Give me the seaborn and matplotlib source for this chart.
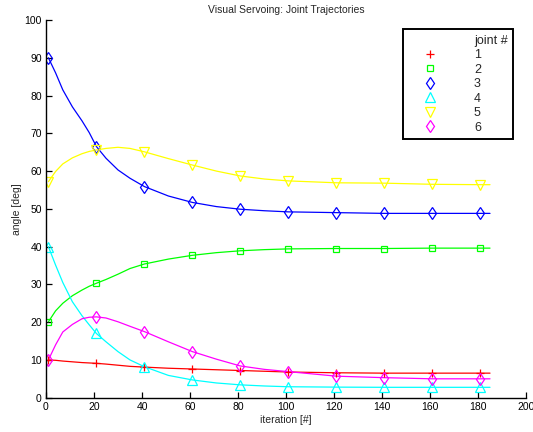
import pandas as pd
import matplotlib
matplotlib.use("Agg")
import matplotlib.pyplot as plt
from matplotlib.lines import Line2D
import seaborn as sns

# iteration samples
ITER = [1, 4, 7, 11, 15, 18, 21, 25, 30, 35, 41, 51, 61, 71, 81, 91,
        101, 121, 141, 161, 181, 185]
MARKER_ITER = [1, 21, 41, 61, 81, 101, 121, 141, 161, 181]

JOINT_1 = [10.0, 9.9, 9.7, 9.5, 9.3, 9.2, 9.1, 8.9, 8.6, 8.3, 8.1, 7.8,
           7.6, 7.4, 7.2, 7.0, 6.8, 6.6, 6.5, 6.5, 6.5, 6.5]
JOINT_2 = [20.1, 23.0, 25.0, 27.0, 28.5, 29.5, 30.3, 31.3, 32.7, 34.2, 35.4,
           36.7, 37.7, 38.4, 38.9, 39.2, 39.4, 39.5, 39.5, 39.6, 39.6, 39.6]
JOINT_3 = [90.0, 86.0, 81.5, 77.0, 73.3, 70.2, 66.5, 63.4, 60.3, 58.1, 55.9,
           53.4, 51.7, 50.6, 49.9, 49.5, 49.2, 49.0, 48.8, 48.8, 48.8, 48.8]
JOINT_4 = [40.0, 35.1, 30.5, 25.4, 21.7, 19.3, 17.0, 14.8, 12.2, 10.0, 8.2,
           5.9, 4.7, 3.9, 3.4, 3.1, 2.9, 2.8, 2.75, 2.75, 2.75, 2.75]
JOINT_5 = [57.2, 59.9, 61.9, 63.5, 64.6, 65.2, 65.6, 66.0, 66.3, 66.0, 65.1,
           63.3, 61.6, 60.0, 58.7, 57.9, 57.4, 56.9, 56.8, 56.5, 56.4, 56.4]
JOINT_6 = [10.0, 14.0, 17.4, 19.4, 20.9, 21.3, 21.4, 21.1, 20.1, 18.9, 17.5,
           14.8, 12.2, 10.2, 8.4, 7.5, 6.9, 5.7, 5.3, 5.0, 5.0, 5.0]

JOINT_LABELS = ["1", "2", "3", "4", "5", "6"]
COLORS = ["#ff0000", "#00ff00", "#0000ff", "#00ffff", "#ffff00", "#ff00ff"]
MARKERS = ["+", "s", "d", "^", "v", "d"]
MARKER_SIZES = [6, 5, 6.5, 6.5, 6.5, 6.5]

sns.set_style("ticks")
plt.rcParams["font.family"] = ["Liberation Sans", "DejaVu Sans"]

series = [JOINT_1, JOINT_2, JOINT_3, JOINT_4, JOINT_5, JOINT_6]
df = pd.concat(
    [pd.DataFrame({"iteration": ITER, "angle": vals, "joint": lab})
     for vals, lab in zip(series, JOINT_LABELS)],
    ignore_index=True
)

fig = plt.figure(figsize=(5.33, 4.32), dpi=100)
ax = fig.add_axes([0.0863, 0.0794, 0.9006, 0.8743])

sns.lineplot(data=df, x="iteration", y="angle", hue="joint",
             palette=COLORS, linewidth=0.9, legend=False, ax=ax)

handles = [Line2D([], [], linestyle="none", marker="none")]
for lab, col, mk, ms in zip(JOINT_LABELS, COLORS, MARKERS, MARKER_SIZES):
    sub = df[(df["joint"] == lab) & (df["iteration"].isin(MARKER_ITER))]
    ax.plot(sub["iteration"], sub["angle"], linestyle="none", marker=mk,
            markersize=ms, markerfacecolor="none", markeredgecolor=col,
            markeredgewidth=0.9, color=col)
    handles.append(Line2D([], [], linestyle="none", marker=mk, markersize=ms,
                          markerfacecolor="none", markeredgecolor=col,
                          markeredgewidth=0.9, color=col))

ax.set_xlim(0, 200)
ax.set_ylim(0, 100)
ax.set_xticks(range(0, 201, 20))
ax.set_yticks(range(0, 101, 10))
ax.tick_params(direction="in", length=4, width=0.9, labelsize=7.5,
               colors="black", pad=3)
for side in ["top", "right"]:
    ax.spines[side].set_visible(False)
for side in ["left", "bottom"]:
    ax.spines[side].set_linewidth(1.0)
    ax.spines[side].set_color("black")

ax.set_title("Visual Servoing: Joint Trajectories", fontsize=7.5, pad=5)
ax.set_xlabel("iteration [#]", fontsize=7.5, labelpad=2)
ax.set_ylabel("angle [deg]", fontsize=7.5, labelpad=2)

leg = ax.legend(handles, ["joint #"] + JOINT_LABELS, loc="upper left",
                bbox_to_anchor=(0.743, 0.976), borderaxespad=0,
                fontsize=9, frameon=True, fancybox=False, borderpad=0.45,
                handlelength=3.4, handletextpad=1.85, labelspacing=0.2)
leg.get_frame().set_edgecolor("black")
leg.get_frame().set_linewidth(1.4)
leg.get_frame().set_alpha(1)

fig.savefig("out.png", dpi=100)
